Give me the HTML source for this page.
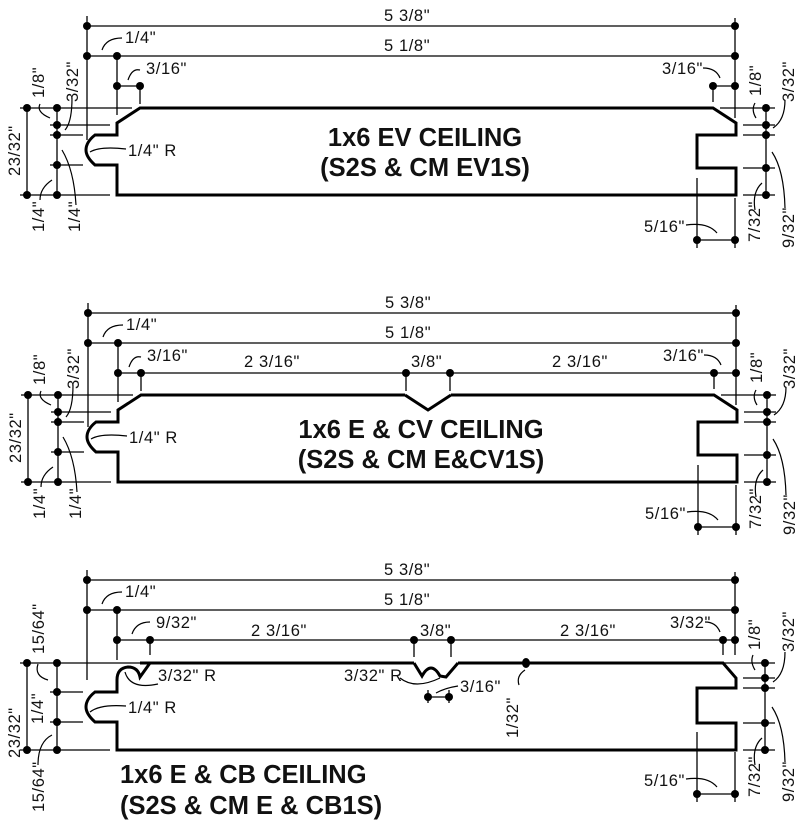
<!DOCTYPE html>
<html><head><meta charset="utf-8"><style>
html,body{margin:0;padding:0;background:#fff;}
svg{display:block;}
.t{font-family:"Liberation Sans",sans-serif;font-size:16.5px;letter-spacing:0.6px;fill:#111;}
.h{font-family:"Liberation Sans",sans-serif;font-size:25.5px;font-weight:bold;fill:#111;}
</style></head><body>
<svg width="801" height="840" viewBox="0 0 801 840" xmlns="http://www.w3.org/2000/svg">
<defs>
<g id="common" stroke="#000" fill="none">
  <line x1="87" y1="16" x2="87" y2="140" stroke-width="1.3"/>
  <line x1="87" y1="26" x2="735" y2="26" stroke-width="1.3"/>
  <line x1="87" y1="56" x2="735" y2="56" stroke-width="1.3"/>
  <line x1="735" y1="18" x2="735" y2="118" stroke-width="1.3"/>
  <line x1="117" y1="56" x2="117" y2="115" stroke-width="1.3"/>
  <line x1="20" y1="108" x2="132" y2="108" stroke-width="1.3"/>
  <line x1="50" y1="125" x2="110" y2="125" stroke-width="1.3"/>
  <line x1="50" y1="135" x2="83" y2="135" stroke-width="1.3"/>
  <line x1="50" y1="165" x2="83" y2="165" stroke-width="1.3"/>
  <line x1="20" y1="195" x2="110" y2="195" stroke-width="1.3"/>
  <line x1="27" y1="108" x2="27" y2="195" stroke-width="1.3"/>
  <line x1="57" y1="108" x2="57" y2="195" stroke-width="1.3"/>
  <line x1="720" y1="108" x2="775" y2="108" stroke-width="1.3"/>
  <line x1="743" y1="125" x2="775" y2="125" stroke-width="1.3"/>
  <line x1="743" y1="135" x2="775" y2="135" stroke-width="1.3"/>
  <line x1="743" y1="168" x2="775" y2="168" stroke-width="1.3"/>
  <line x1="743" y1="195" x2="775" y2="195" stroke-width="1.3"/>
  <line x1="766" y1="108" x2="766" y2="195" stroke-width="1.3"/>
  <line x1="697" y1="178" x2="697" y2="248" stroke-width="1.3"/>
  <line x1="735" y1="198" x2="735" y2="248" stroke-width="1.3"/>
  <line x1="697" y1="240" x2="735" y2="240" stroke-width="1.3"/>
  <path d="M122 38 Q106 38 102 50" stroke-width="1.2"/>
  <path d="M40 104 Q36 112 50 118" stroke-width="1.2"/>
  <path d="M72 98 Q72 122 65 130" stroke-width="1.2"/>
  <path d="M40 200 Q40 188 52 180" stroke-width="1.2"/>
  <path d="M76 205 Q74 170 62 150" stroke-width="1.2"/>
  <path d="M126 149 Q100 146 90 152" stroke-width="1.2"/>
  <path d="M755 103 Q751 110 756 118" stroke-width="1.2"/>
  <path d="M785 100 Q785 120 773 128" stroke-width="1.2"/>
  <path d="M755 210 Q752 192 762 183" stroke-width="1.2"/>
  <path d="M785 208 Q784 170 772 152" stroke-width="1.2"/>
  <path d="M686 225 Q708 222 717 233" stroke-width="1.2"/>
  <g fill="#000" stroke="none">
    <circle cx="87" cy="26" r="4"/><circle cx="735" cy="26" r="4"/>
    <circle cx="87" cy="56" r="4"/><circle cx="117" cy="56" r="4"/><circle cx="735" cy="56" r="4"/>
    <circle cx="27" cy="108" r="4"/><circle cx="27" cy="195" r="4"/>
    <circle cx="57" cy="108" r="4"/><circle cx="57" cy="125" r="4"/><circle cx="57" cy="135" r="4"/><circle cx="57" cy="165" r="4"/><circle cx="57" cy="195" r="4"/>
    <circle cx="766" cy="108" r="4"/><circle cx="766" cy="125" r="4"/><circle cx="766" cy="135" r="4"/><circle cx="766" cy="168" r="4"/><circle cx="766" cy="195" r="4"/>
    <circle cx="697" cy="240" r="4"/><circle cx="735" cy="240" r="4"/>
  </g>
</g>
<g id="ctext">
  <text class="t" x="384" y="21">5 3/8"</text>
  <text class="t" x="384" y="51">5 1/8"</text>
  <text class="t" x="125" y="43">1/4"</text>
  <text class="t" x="128" y="156">1/4" R</text>
  <text class="t" x="644" y="232">5/16"</text>
  <text class="t" transform="translate(20,176) rotate(-90)">23/32"</text>
  <text class="t" transform="translate(44,232) rotate(-90)">1/4"</text>
  <text class="t" transform="translate(80,232) rotate(-90)">1/4"</text>
  <text class="t" transform="translate(794,248) rotate(-90)">9/32"</text>
  <text class="t" transform="translate(760,242) rotate(-90)">7/32"</text>
</g>
<g id="p12" stroke="#000" fill="none">
  <line x1="117" y1="86" x2="140" y2="86" stroke-width="1.3"/>
  <line x1="140" y1="86" x2="140" y2="104" stroke-width="1.3"/>
  <line x1="713" y1="86" x2="735" y2="86" stroke-width="1.3"/>
  <line x1="713" y1="86" x2="713" y2="102" stroke-width="1.3"/>
  <path d="M140 70 Q132 68 128 80" stroke-width="1.2"/>
  <path d="M703 68 Q716 68 720 78" stroke-width="1.2"/>
  <g fill="#000" stroke="none">
    <circle cx="117" cy="86" r="4"/><circle cx="140" cy="86" r="4"/>
    <circle cx="713" cy="86" r="4"/><circle cx="735" cy="86" r="4"/>
  </g>
  <path d="M140 108 L713 108 L736 123 L736 135 L697 135 L697 168 L736 168 L736 195 L117 195 L117 165 L95 165 Q86 157 86 150 Q86 142 95 135 L117 135 L117 123 Z" stroke-width="3"/>
  <text class="t" x="146" y="74" stroke="none">3/16"</text>
  <text class="t" x="662" y="74" stroke="none">3/16"</text>
  <text class="t" transform="translate(44,98) rotate(-90)" stroke="none">1/8"</text>
  <text class="t" transform="translate(78,102) rotate(-90)" stroke="none">3/32"</text>
  <text class="t" transform="translate(761,96) rotate(-90)" stroke="none">1/8"</text>
  <text class="t" transform="translate(794,102) rotate(-90)" stroke="none">3/32"</text>
</g>
</defs>

<use href="#common"/><use href="#ctext"/><use href="#p12"/>
<text class="h" x="425" y="146" text-anchor="middle">1x6 EV CEILING</text>
<text class="h" x="425" y="176" text-anchor="middle">(S2S &amp; CM EV1S)</text>

<g transform="translate(1,287)">
  <use href="#common"/><use href="#ctext"/><use href="#p12"/>
  <line x1="140" y1="86" x2="713" y2="86" stroke="#000" stroke-width="1.3"/>
  <line x1="405" y1="86" x2="405" y2="104" stroke="#000" stroke-width="1.3"/>
  <line x1="449" y1="86" x2="449" y2="104" stroke="#000" stroke-width="1.3"/>
  <circle cx="405" cy="86" r="4"/><circle cx="449" cy="86" r="4"/>
  <line x1="404" y1="108" x2="450" y2="108" stroke="#fff" stroke-width="4"/>
  <path d="M404 108 L427 123 L450 108" stroke="#000" stroke-width="3" fill="none"/>
  <text class="t" x="243" y="80">2 3/16"</text>
  <text class="t" x="551" y="80">2 3/16"</text>
  <text class="t" x="410" y="80">3/8"</text>
  <text class="h" x="420" y="151" text-anchor="middle">1x6 E &amp; CV CEILING</text>
  <text class="h" x="420" y="181" text-anchor="middle">(S2S &amp; CM E&amp;CV1S)</text>
</g>

<g stroke="#000" fill="none" stroke-width="1.3">
  <line x1="87" y1="570" x2="87" y2="680"/>
  <line x1="87" y1="580" x2="735" y2="580"/>
  <line x1="87" y1="610" x2="735" y2="610"/>
  <line x1="735" y1="572" x2="735" y2="655"/>
  <line x1="117" y1="610" x2="117" y2="660"/>
  <line x1="117" y1="640" x2="735" y2="640"/>
  <line x1="150" y1="640" x2="150" y2="655"/>
  <line x1="414" y1="640" x2="414" y2="657"/>
  <line x1="451" y1="640" x2="451" y2="657"/>
  <line x1="723" y1="640" x2="723" y2="655"/>
  <line x1="20" y1="663" x2="180" y2="663"/>
  <line x1="50" y1="692" x2="83" y2="692"/>
  <line x1="50" y1="722" x2="83" y2="722"/>
  <line x1="20" y1="750" x2="110" y2="750"/>
  <line x1="27" y1="663" x2="27" y2="750"/>
  <line x1="57" y1="663" x2="57" y2="750"/>
  <line x1="720" y1="663" x2="775" y2="663"/>
  <line x1="743" y1="678" x2="775" y2="678"/>
  <line x1="743" y1="688" x2="775" y2="688"/>
  <line x1="743" y1="723" x2="775" y2="723"/>
  <line x1="743" y1="750" x2="775" y2="750"/>
  <line x1="765" y1="663" x2="765" y2="750"/>
  <line x1="697" y1="732" x2="697" y2="802"/>
  <line x1="735" y1="752" x2="735" y2="802"/>
  <line x1="697" y1="794" x2="735" y2="794"/>
  <line x1="428" y1="690" x2="428" y2="703"/>
  <line x1="449" y1="690" x2="449" y2="703"/>
  <line x1="428" y1="697" x2="449" y2="697"/>
  <line x1="480" y1="663" x2="535" y2="663"/>
  <path d="M122 592 Q106 592 102 604" stroke-width="1.2"/>
  <path d="M150 622 Q136 622 132 634" stroke-width="1.2"/>
  <path d="M705 622 Q716 622 720 632" stroke-width="1.2"/>
  <path d="M38 664 Q34 676 48 680" stroke-width="1.2"/>
  <path d="M38 765 Q38 742 52 735" stroke-width="1.2"/>
  <path d="M126 706 Q100 704 90 712" stroke-width="1.2"/>
  <path d="M158 684 Q130 690 125 672" stroke-width="1.2"/>
  <path d="M400 678 Q415 690 440 678" stroke-width="1.2"/>
  <path d="M458 686 Q445 688 436 693" stroke-width="1.2"/>
  <path d="M519 685 Q516 676 525 670" stroke-width="1.2"/>
  <path d="M753 655 Q750 662 755 670" stroke-width="1.2"/>
  <path d="M785 652 Q785 674 773 682" stroke-width="1.2"/>
  <path d="M755 765 Q752 747 762 738" stroke-width="1.2"/>
  <path d="M785 762 Q784 725 772 707" stroke-width="1.2"/>
  <path d="M686 779 Q708 776 717 787" stroke-width="1.2"/>
  <path d="M140 663 L723 663 L736 678 L736 688 L697 688 L697 723 L736 723 L736 750 L117 750 L117 722 L95 722 Q86 714 86 707 Q86 699 95 692 L117 692 L117 680 Q117 668 128 667 Q138 667 140 677 L150 663 Z" stroke-width="3"/>
  <line x1="414" y1="663" x2="458" y2="663" stroke="#fff" stroke-width="4"/>
  <path d="M414 663 L422 676 Q431 660 440 676 L446 677 L458 663" stroke-width="3"/>
</g>
<g fill="#000">
  <circle cx="87" cy="580" r="4"/><circle cx="735" cy="580" r="4"/>
  <circle cx="87" cy="610" r="4"/><circle cx="117" cy="610" r="4"/><circle cx="735" cy="610" r="4"/>
  <circle cx="117" cy="640" r="4"/><circle cx="150" cy="640" r="4"/><circle cx="414" cy="640" r="4"/><circle cx="451" cy="640" r="4"/><circle cx="723" cy="640" r="4"/><circle cx="735" cy="640" r="4"/>
  <circle cx="27" cy="663" r="4"/><circle cx="27" cy="750" r="4"/>
  <circle cx="57" cy="663" r="4"/><circle cx="57" cy="692" r="4"/><circle cx="57" cy="722" r="4"/><circle cx="57" cy="750" r="4"/>
  <circle cx="765" cy="663" r="4"/><circle cx="765" cy="678" r="4"/><circle cx="765" cy="688" r="4"/><circle cx="765" cy="723" r="4"/><circle cx="765" cy="750" r="4"/>
  <circle cx="697" cy="794" r="4"/><circle cx="735" cy="794" r="4"/>
  <circle cx="428" cy="697" r="4"/><circle cx="449" cy="697" r="4"/>
  <ellipse cx="526" cy="663" rx="4" ry="5"/>
</g>
<text class="t" x="384" y="575">5 3/8"</text>
<text class="t" x="384" y="605">5 1/8"</text>
<text class="t" x="125" y="597">1/4"</text>
<text class="t" x="156" y="628">9/32"</text>
<text class="t" x="251" y="636">2 3/16"</text>
<text class="t" x="420" y="636">3/8"</text>
<text class="t" x="560" y="636">2 3/16"</text>
<text class="t" x="670" y="628">3/32"</text>
<text class="t" x="158" y="681">3/32" R</text>
<text class="t" x="344" y="681">3/32" R</text>
<text class="t" x="460" y="692">3/16"</text>
<text class="t" x="128" y="713">1/4" R</text>
<text class="t" x="644" y="786">5/16"</text>
<text class="t" transform="translate(518,738) rotate(-90)">1/32"</text>
<text class="t" transform="translate(20,758) rotate(-90)">23/32"</text>
<text class="t" transform="translate(43,724) rotate(-90)">1/4"</text>
<text class="t" transform="translate(44,654) rotate(-90)">15/64"</text>
<text class="t" transform="translate(44,812) rotate(-90)">15/64"</text>
<text class="t" transform="translate(760,650) rotate(-90)">1/8"</text>
<text class="t" transform="translate(794,652) rotate(-90)">3/32"</text>
<text class="t" transform="translate(760,797) rotate(-90)">7/32"</text>
<text class="t" transform="translate(794,802) rotate(-90)">9/32"</text>
<text class="h" x="120" y="783">1x6 E &amp; CB CEILING</text>
<text class="h" x="120" y="814">(S2S &amp; CM E &amp; CB1S)</text>
</svg>
</body></html>
